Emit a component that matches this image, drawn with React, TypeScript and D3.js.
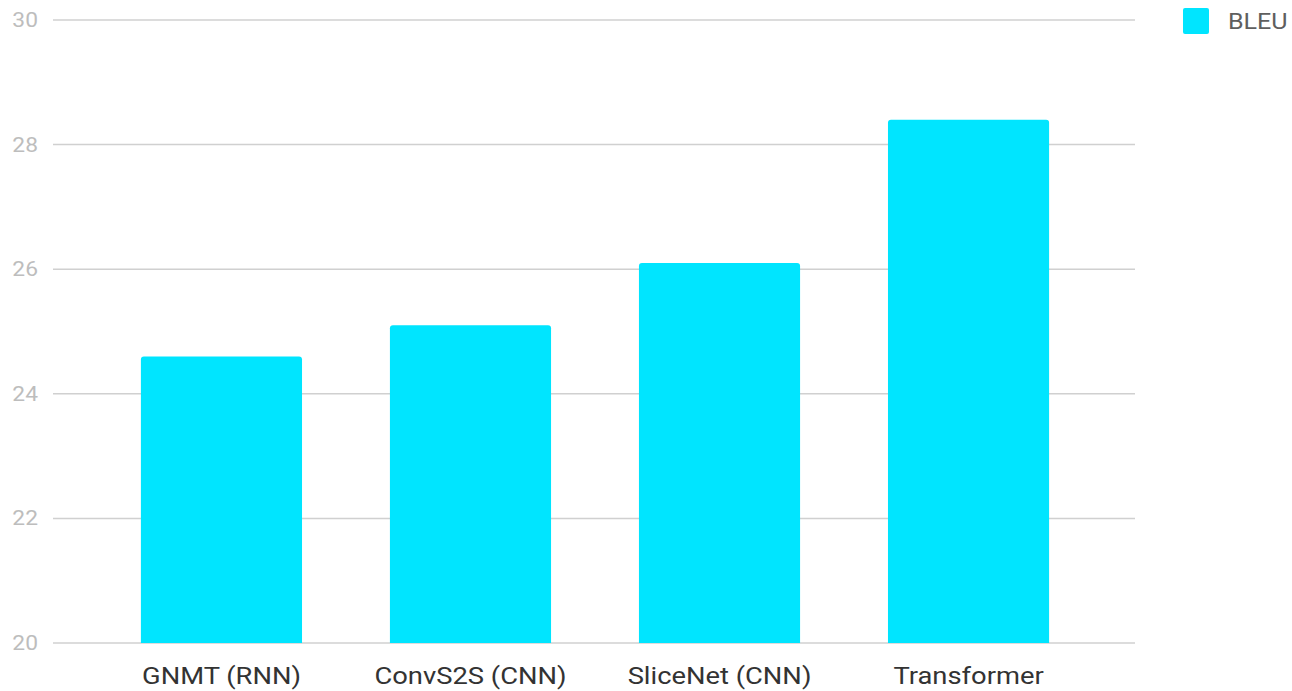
import React from "react";
import * as d3 from "d3";

const width = 1292;
const height = 691;

const categories = ["GNMT (RNN)", "ConvS2S (CNN)", "SliceNet (CNN)", "Transformer"];
const bleu = [24.6, 25.1, 26.1, 28.4];
const yTicks = [20, 22, 24, 26, 28, 30];
const seriesName = "BLEU";

const barColor = "#00e5ff";
// the source picture is a bit stretched horizontally, so is the text
const stretch = 1.14;

const App = () => {
  const x = d3.scaleBand<string>().domain(categories).range([53, 1137]).padding(0.353);
  const y = d3.scaleLinear().domain([20, 30]).range([643, 20]);

  // bar with small rounded top corners
  const barPath = (x0: number, w: number, top: number, bottom: number) => {
    const r = 3;
    const p = d3.path();
    p.moveTo(x0, bottom);
    p.lineTo(x0, top + r);
    p.quadraticCurveTo(x0, top, x0 + r, top);
    p.lineTo(x0 + w - r, top);
    p.quadraticCurveTo(x0 + w, top, x0 + w, top + r);
    p.lineTo(x0 + w, bottom);
    p.closePath();
    return p.toString();
  };

  return (
    <svg
      width={width}
      height={height}
      style={{ position: "absolute", left: 0, top: 0, background: "#fff" }}
      fontFamily="Roboto, sans-serif"
    >
      {/* gridlines + y ticks */}
      {yTicks.map(t => (
        <g key={t}>
          <line x1={53} x2={1135} y1={y(t)} y2={y(t)} stroke="#d0d0d0" strokeWidth={1.5} />
          <text
            transform={`translate(38,${y(t)}) scale(${stretch},1)`}
            dy="0.35em"
            textAnchor="end"
            fontSize={20}
            fill="#bdbdbd"
          >
            {t}
          </text>
        </g>
      ))}

      {/* bars */}
      {categories.map((c, i) => (
        <path
          key={c}
          d={barPath(x(c)!, x.bandwidth(), y(bleu[i]), y(20))}
          fill={barColor}
        />
      ))}

      {/* x labels */}
      {categories.map(c => (
        <text
          key={c}
          transform={`translate(${x(c)! + x.bandwidth() / 2},684) scale(${stretch},1)`}
          textAnchor="middle"
          fontSize={24}
          fill="#333"
        >
          {c}
        </text>
      ))}

      {/* legend */}
      <rect x={1183} y={8} width={26} height={26} rx={2} fill={barColor} />
      <text
        transform={`translate(1228,21) scale(${stretch},1)`}
        dy="0.35em"
        fontSize={22}
        fill="#5f5f5f"
      >
        {seriesName}
      </text>
    </svg>
  );
};

export default App;
